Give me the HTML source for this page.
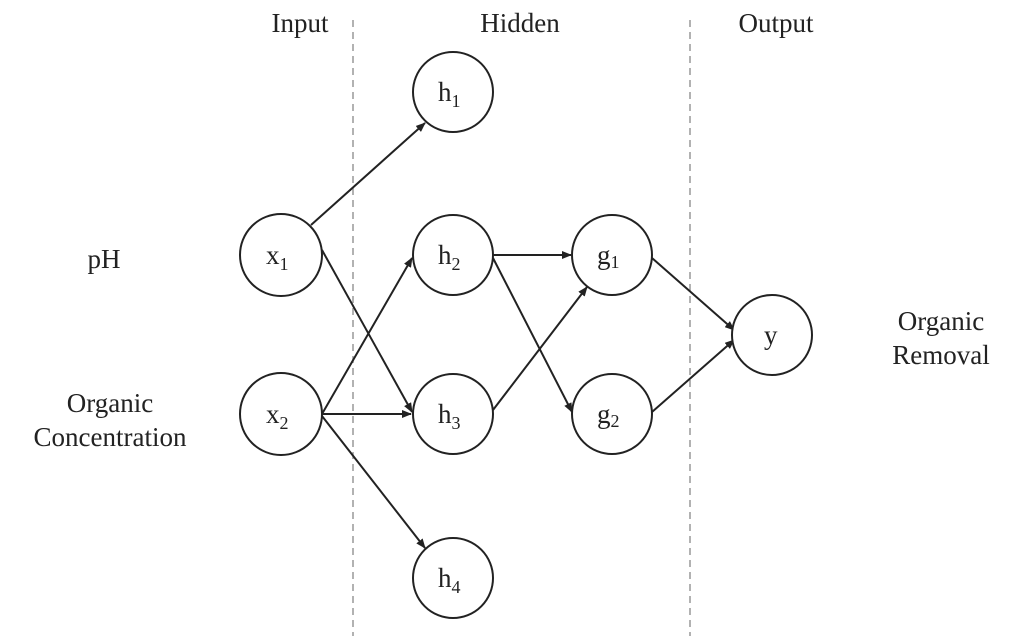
<!DOCTYPE html>
<html><head><style>
html,body{margin:0;padding:0;background:#fff;}
svg{display:block;}
text{font-family:"Liberation Serif",serif;fill:#222;}
</style></head><body>
<svg width="1024" height="636" viewBox="0 0 1024 636" xmlns="http://www.w3.org/2000/svg">
<defs>
<marker id="a" markerWidth="10" markerHeight="8" refX="9" refY="4" orient="auto" markerUnits="userSpaceOnUse">
<path d="M0,0 L10,4 L0,8 z" fill="#222"/></marker>
</defs>
<g stroke="#999" stroke-width="1.5" stroke-dasharray="7,5">
<line x1="353" y1="20" x2="353" y2="636"/>
<line x1="690" y1="20" x2="690" y2="636"/>
</g>
<g font-size="27" text-anchor="middle">
<text x="300" y="32">Input</text>
<text x="520" y="32">Hidden</text>
<text x="776" y="32">Output</text>
<text x="104" y="268">pH</text>
<text x="110" y="412">Organic</text>
<text x="110" y="446">Concentration</text>
<text x="941" y="330">Organic</text>
<text x="941" y="364">Removal</text>
</g>
<g stroke="#222" stroke-width="2" marker-end="url(#a)" fill="none">
<line x1="311" y1="225" x2="425" y2="123"/>
<line x1="322" y1="250" x2="412" y2="412"/>
<line x1="322" y1="414" x2="412" y2="258"/>
<line x1="322" y1="414" x2="411" y2="414"/>
<line x1="322" y1="416" x2="425" y2="548"/>
<line x1="493" y1="255" x2="571" y2="255"/>
<line x1="493" y1="258" x2="572" y2="412"/>
<line x1="493" y1="410" x2="587" y2="287"/>
<line x1="652" y1="258" x2="734" y2="330"/>
<line x1="652" y1="412" x2="734" y2="340"/>
</g>
<g stroke="#222" stroke-width="2" fill="#fff">
<circle cx="281" cy="255" r="41"/>
<circle cx="281" cy="414" r="41"/>
<circle cx="453" cy="92" r="40"/>
<circle cx="453" cy="255" r="40"/>
<circle cx="453" cy="414" r="40"/>
<circle cx="453" cy="578" r="40"/>
<circle cx="612" cy="255" r="40"/>
<circle cx="612" cy="414" r="40"/>
<circle cx="772" cy="335" r="40"/>
</g>
<g font-size="27">
<text x="266" y="264">x<tspan font-size="18" dy="6">1</tspan></text>
<text x="266" y="423">x<tspan font-size="18" dy="6">2</tspan></text>
<text x="438" y="101">h<tspan font-size="18" dy="6">1</tspan></text>
<text x="438" y="264">h<tspan font-size="18" dy="6">2</tspan></text>
<text x="438" y="423">h<tspan font-size="18" dy="6">3</tspan></text>
<text x="438" y="587">h<tspan font-size="18" dy="6">4</tspan></text>
<text x="597" y="264">g<tspan font-size="18" dy="4">1</tspan></text>
<text x="597" y="423">g<tspan font-size="18" dy="4">2</tspan></text>
<text x="764" y="344">y</text>
</g>
</svg>
</body></html>
